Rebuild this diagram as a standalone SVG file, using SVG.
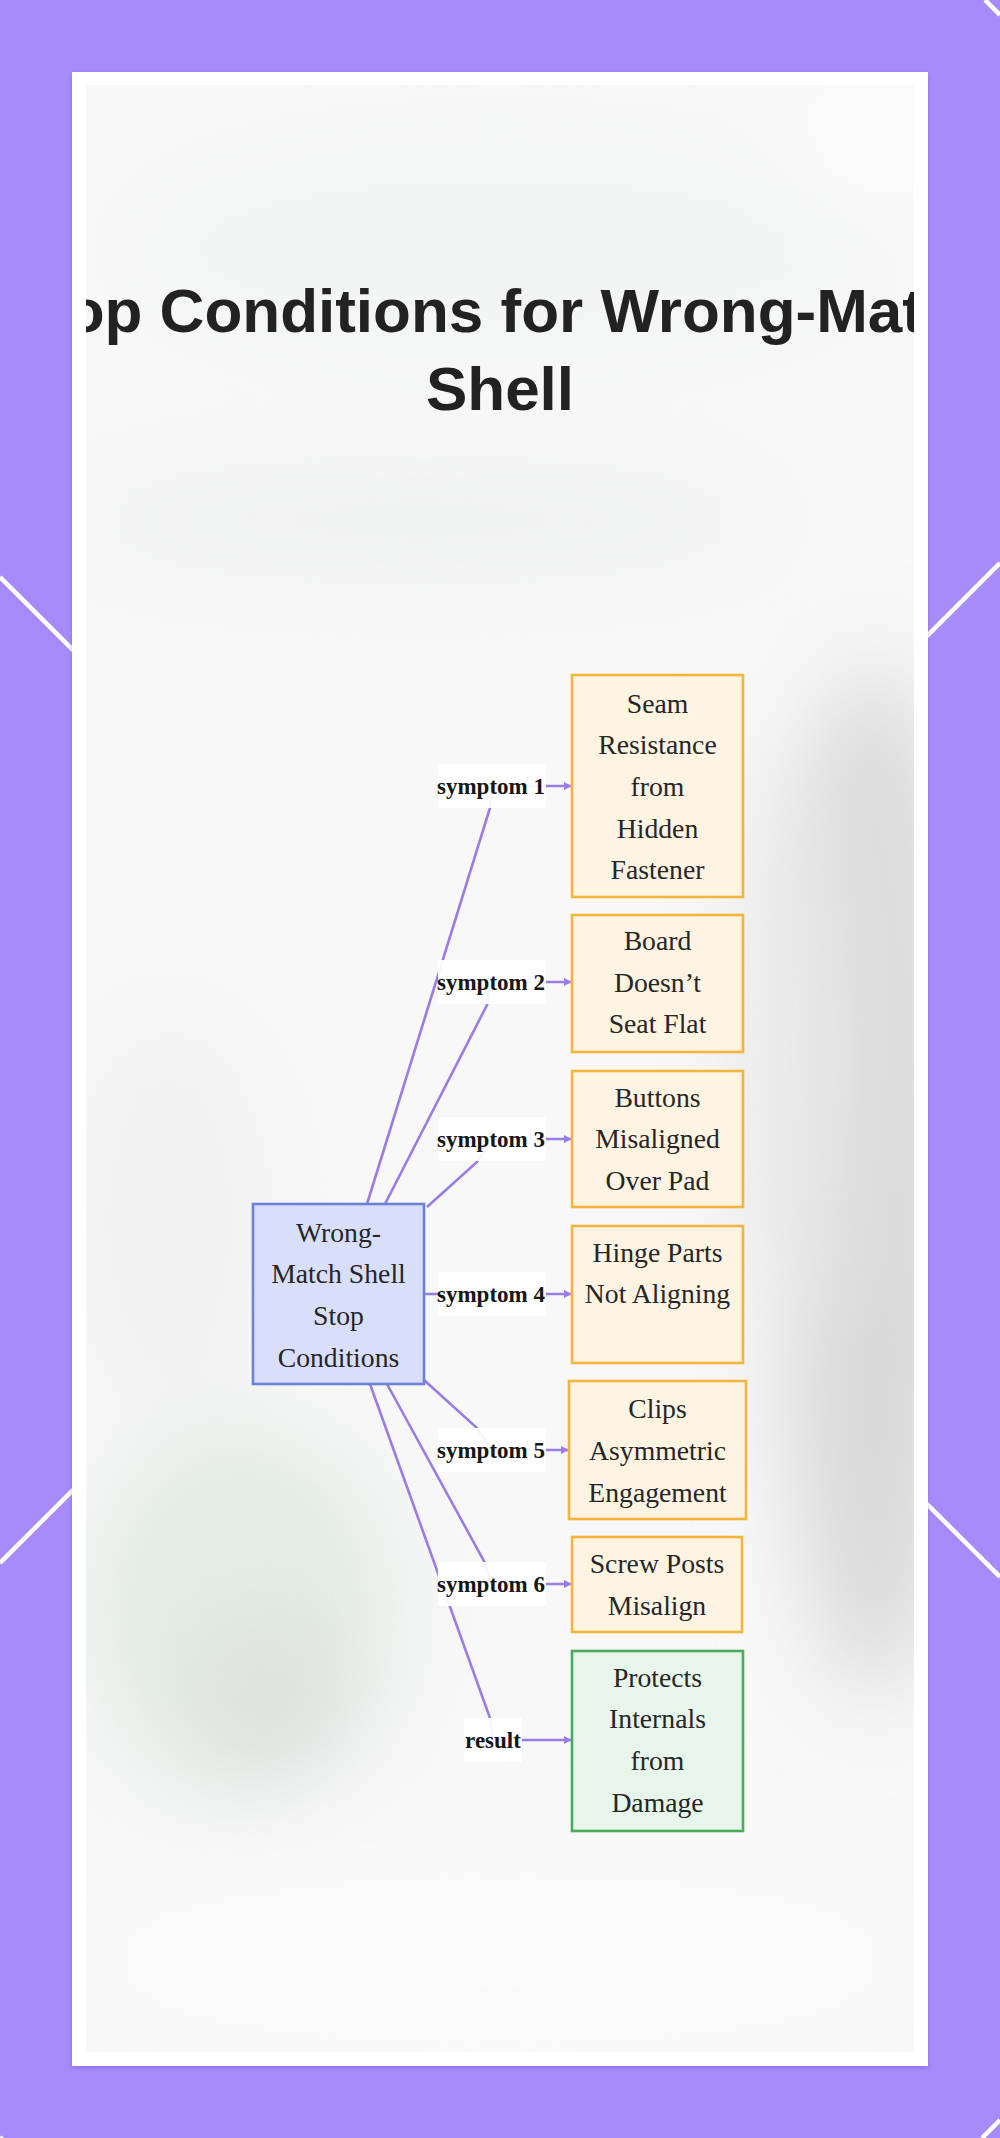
<svg xmlns="http://www.w3.org/2000/svg" width="1000" height="2138" viewBox="0 0 1000 2138">
  <defs>
    <style>
      .deco{stroke:#ffffff;stroke-width:4.5;fill:none}
      .title{font-family:"Liberation Sans",Arial,sans-serif;font-weight:bold;font-size:62px;fill:#222222;text-anchor:middle}
      .ntext{font-family:"Liberation Serif","Times New Roman",serif;font-size:27.7px;fill:#262626;text-anchor:middle}
      .ltext{font-family:"Liberation Serif","Times New Roman",serif;font-weight:bold;font-size:23px;fill:#161616;text-anchor:middle}
      .lbg{fill:#ffffff;fill-opacity:0.92}
      .sym{fill:#fff3e2;stroke:#f4b53f;stroke-width:2.6}
      .res{fill:#e7f5ea;stroke:#4aac5a;stroke-width:2.6}
      .root{fill:#d9defb;stroke:#6a82d8;stroke-width:2.6}
      .edge{fill:none;stroke:#9b7be6;stroke-width:2.6;marker-end:url(#arrow)}
    </style>
    <marker id="arrow" viewBox="0 0 10 10" refX="9" refY="5" markerWidth="8" markerHeight="8" markerUnits="userSpaceOnUse" orient="auto">
      <path d="M0,0 L10,5 L0,10 z" fill="#9b7be6"/>
    </marker>
    <clipPath id="inner">
      <rect x="86" y="85" width="828" height="1967"/>
    </clipPath>
    <filter id="blur" x="-20%" y="-20%" width="140%" height="140%">
      <feGaussianBlur stdDeviation="45"/>
    </filter>
    <filter id="shadow" x="-5%" y="-5%" width="110%" height="110%">
      <feDropShadow dx="0" dy="2" stdDeviation="2" flood-color="#5b3fb0" flood-opacity="0.35"/>
    </filter>
  </defs>

  <!-- outer purple backdrop with diagonal lattice -->
  <rect x="0" y="0" width="1000" height="2138" fill="#a78bfa"/>
  <g id="backdrop-lines">
    <line class="deco" x1="0" y1="577" x2="1000" y2="1577"/>
    <line class="deco" x1="0" y1="1563" x2="1000" y2="563"/>
    <line class="deco" x1="985" y1="0" x2="1000" y2="15"/>
    <line class="deco" x1="982" y1="2138" x2="1000" y2="2120"/>
    <line class="deco" x1="0" y1="2137" x2="3" y2="2140"/>
  </g>

  <!-- white panel -->
  <rect x="72" y="72" width="856" height="1994" fill="#ffffff" filter="url(#shadow)"/>

  <!-- blurred photo-like background inside panel -->
  <g clip-path="url(#inner)">
    <rect x="86" y="85" width="828" height="1967" fill="#f8f8f8"/>
    <g filter="url(#blur)">
      <ellipse cx="500" cy="250" rx="380" ry="110" fill="#f3f4f4"/>
      <ellipse cx="420" cy="520" rx="360" ry="60" fill="#f0f1f1"/>
      <ellipse cx="870" cy="140" rx="60" ry="50" fill="#ffffff"/>
      <ellipse cx="875" cy="1180" rx="100" ry="520" fill="#d9d9d9"/>
      <ellipse cx="790" cy="1050" rx="60" ry="300" fill="#e9e9e9"/>
      <ellipse cx="240" cy="1610" rx="160" ry="190" fill="#e3ece6"/>
      <ellipse cx="270" cy="1700" rx="80" ry="80" fill="#dde1de"/>
      <ellipse cx="170" cy="1220" rx="100" ry="200" fill="#f1f1f1"/>
      <ellipse cx="500" cy="1960" rx="420" ry="90" fill="#fbfbfb"/>
    </g>
  </g>

  <!-- title -->
  <g id="title" clip-path="url(#inner)">
    <text class="title" x="500" y="332">Stop Conditions for Wrong-Match</text>
    <text class="title" x="500" y="410">Shell</text>
  </g>

  <!-- connectors -->
  <g id="connectors">
    <path id="e1" class="edge" d="M367,1204 L490,808 L491,786 L571,786"/>
    <path id="e2" class="edge" d="M385,1204 L487,1005 L491,982 L571,982"/>
    <path id="e3" class="edge" d="M427,1207 L477,1162 L491,1139 L571,1139"/>
    <path id="e4" class="edge" d="M424,1294 L491,1294 L571,1294"/>
    <path id="e5" class="edge" d="M424,1380 L477,1428 L491,1450 L568,1450"/>
    <path id="e6" class="edge" d="M387,1384 L485,1563 L491,1584 L571,1584"/>
    <path id="e7" class="edge" d="M370,1384 L490,1718 L493,1740 L571,1740"/>
  </g>

  <!-- edge labels -->
  <g id="edge-labels">
    <g id="l1"><rect class="lbg" x="438" y="764" width="108" height="44"/><text class="ltext" x="491" y="794">symptom 1</text></g>
    <g id="l2"><rect class="lbg" x="438" y="960" width="108" height="44"/><text class="ltext" x="491" y="990">symptom 2</text></g>
    <g id="l3"><rect class="lbg" x="438" y="1117" width="108" height="44"/><text class="ltext" x="491" y="1147">symptom 3</text></g>
    <g id="l4"><rect class="lbg" x="438" y="1272" width="108" height="44"/><text class="ltext" x="491" y="1302">symptom 4</text></g>
    <g id="l5"><rect class="lbg" x="438" y="1428" width="108" height="44"/><text class="ltext" x="491" y="1458">symptom 5</text></g>
    <g id="l6"><rect class="lbg" x="438" y="1562" width="108" height="44"/><text class="ltext" x="491" y="1592">symptom 6</text></g>
    <g id="l7"><rect class="lbg" x="464" y="1718" width="58" height="44"/><text class="ltext" x="493" y="1748">result</text></g>
  </g>

  <!-- nodes -->
  <g id="root">
    <rect class="root" x="253" y="1204" width="171" height="180"/>
    <text class="ntext" x="338.5" y="1241.7">Wrong-</text>
    <text class="ntext" x="338.5" y="1283.3">Match Shell</text>
    <text class="ntext" x="338.5" y="1324.9">Stop</text>
    <text class="ntext" x="338.5" y="1366.5">Conditions</text>
  </g>
  <g id="s1">
    <rect class="sym" x="572" y="675" width="171" height="222"/>
    <text class="ntext" x="657.5" y="712.7">Seam</text>
    <text class="ntext" x="657.5" y="754.3">Resistance</text>
    <text class="ntext" x="657.5" y="795.9">from</text>
    <text class="ntext" x="657.5" y="837.5">Hidden</text>
    <text class="ntext" x="657.5" y="879.1">Fastener</text>
  </g>
  <g id="s2">
    <rect class="sym" x="572" y="915" width="171" height="137"/>
    <text class="ntext" x="657.5" y="950">Board</text>
    <text class="ntext" x="657.5" y="991.6">Doesn’t</text>
    <text class="ntext" x="657.5" y="1033.2">Seat Flat</text>
  </g>
  <g id="s3">
    <rect class="sym" x="572" y="1071" width="171" height="136"/>
    <text class="ntext" x="657.5" y="1106.7">Buttons</text>
    <text class="ntext" x="657.5" y="1148.3">Misaligned</text>
    <text class="ntext" x="657.5" y="1189.9">Over Pad</text>
  </g>
  <g id="s4">
    <rect class="sym" x="572" y="1226" width="171" height="137"/>
    <text class="ntext" x="657.5" y="1261.7">Hinge Parts</text>
    <text class="ntext" x="657.5" y="1303.3">Not Aligning</text>
  </g>
  <g id="s5">
    <rect class="sym" x="569" y="1381" width="177" height="138"/>
    <text class="ntext" x="657.5" y="1418.3">Clips</text>
    <text class="ntext" x="657.5" y="1459.9">Asymmetric</text>
    <text class="ntext" x="657.5" y="1501.5">Engagement</text>
  </g>
  <g id="s6">
    <rect class="sym" x="572" y="1537" width="170" height="95"/>
    <text class="ntext" x="657" y="1573.3">Screw Posts</text>
    <text class="ntext" x="657" y="1614.9">Misalign</text>
  </g>
  <g id="result">
    <rect class="res" x="572" y="1651" width="171" height="180"/>
    <text class="ntext" x="657.5" y="1686.7">Protects</text>
    <text class="ntext" x="657.5" y="1728.3">Internals</text>
    <text class="ntext" x="657.5" y="1769.9">from</text>
    <text class="ntext" x="657.5" y="1811.5">Damage</text>
  </g>
</svg>
